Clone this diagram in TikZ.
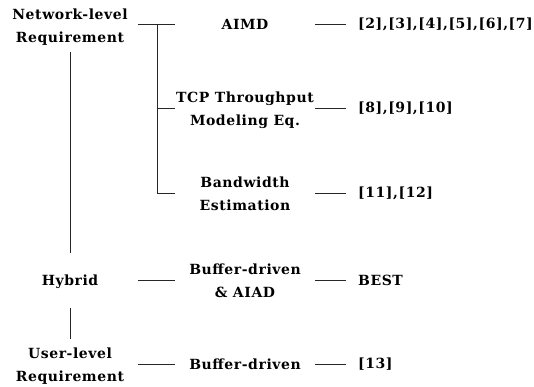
\documentclass[tikz,border=0pt]{standalone}
\usepackage{fontspec}
\setmainfont{DejaVu Serif}[LetterSpace=4]

\begin{document}
\begin{tikzpicture}[x=1pt, y=-1pt,
  lbl/.style={align=center, inner sep=0pt, font=\fontsize{14}{23}\selectfont\bfseries},
  side/.style={lbl, minimum width=136pt},
  mid/.style={lbl, minimum width=140pt},
  ref/.style={lbl, anchor=west},
  link/.style={line width=0.8pt, draw=black!85}
]
\useasboundingbox (0,0) rectangle (534,386);
% left column
\node[side] (net) at (70,27) {Network-level\\Requirement};
\node[side] (hyb) at (70,282) {Hybrid};
\node[side] (usr) at (70,366) {User-level\\Requirement};
% middle column
\node[mid] (aimd) at (245,24) {AIMD};
\node[mid] (tcp) at (245,110) {TCP Throughput\\Modeling Eq.};
\node[mid] (bw) at (245,194) {Bandwidth\\Estimation};
\node[mid] (bufa) at (245,281) {Buffer-driven\\\& AIAD};
\node[mid] (bufb) at (245,364) {Buffer-driven};
% references
\node[ref] (r1) at (358,24) {[2],[3],[4],[5],[6],[7]};
\node[ref] (r2) at (358,108) {[8],[9],[10]};
\node[ref] (r3) at (358,193) {[11],[12]};
\node[ref] (best) at (358,280) {BEST};
\node[ref] (r4) at (358,364) {[13]};
\coordinate (fork) at (157,0);
% tree
\draw[link] (net.east |- aimd.west) -- (aimd.west);
\draw[link] (fork |- aimd.west) |- (bw.west |- r3.west);
\draw[link] (fork |- r2.west) -- (tcp.west |- r2.west);
\draw[link, shorten <=7pt, shorten >=22pt] (net) -- (hyb);
\draw[link, shorten <=19pt, shorten >=9pt] (hyb) -- (usr);
\draw[link] (hyb.east |- best.west) -- (bufa.west |- best.west);
\draw[link] (usr.east |- bufb.west) -- (bufb.west);
% dashes to references
\foreach \m/\r in {aimd/r1, tcp/r2, bw/r3, bufa/best, bufb/r4}
  \draw[link, shorten >=12pt] (\m.east |- \r.west) -- (\r.west);
\end{tikzpicture}
\end{document}
